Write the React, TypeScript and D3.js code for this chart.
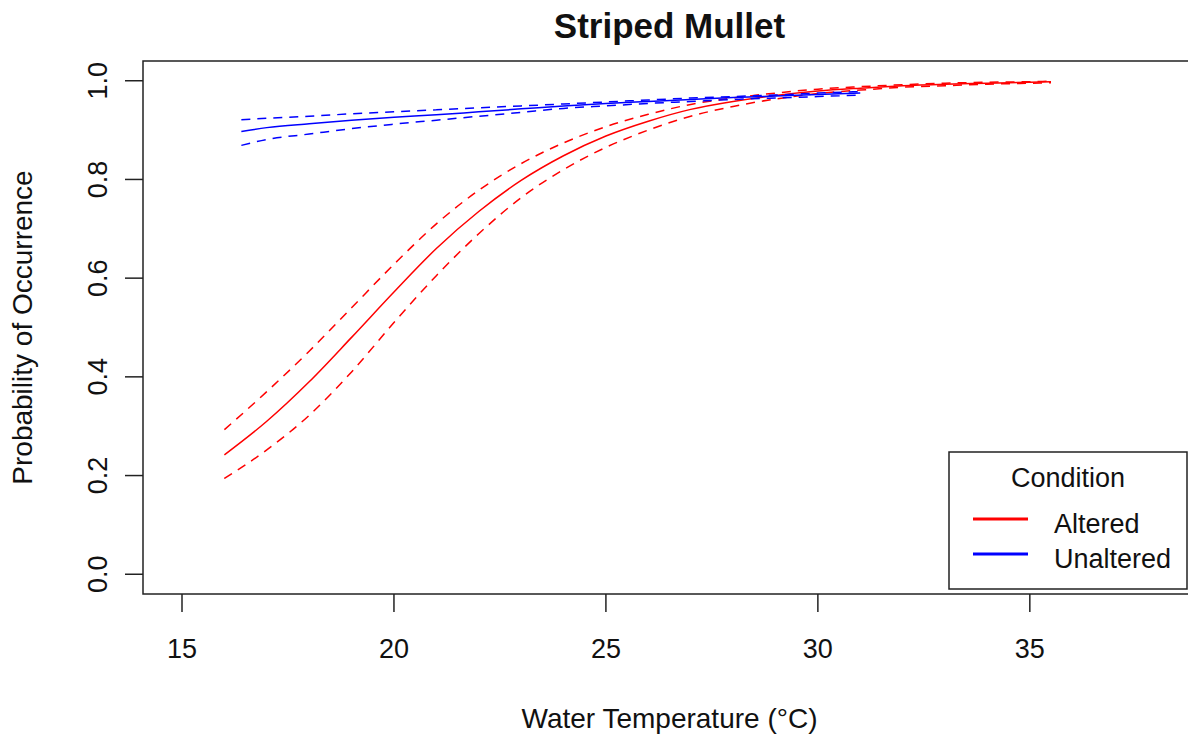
import React from "react";
import * as d3 from "d3";

const title = "Striped Mullet";
const xLabel = "Water Temperature (°C)";
const yLabel = "Probability of Occurrence";
const xTicks = [15, 20, 25, 30, 35];
const yTicks = [0, 0.2, 0.4, 0.6, 0.8, 1.0];
const legendTitle = "Condition";
const legendNames = ["Altered", "Unaltered"];
const seriesColors = ["#ff0000", "#0000ff"];

// Altered (red)
const alteredTemp = [16, 17, 18, 19, 20, 21, 22, 23, 24, 25, 26, 27, 28, 29, 30, 31, 32, 33, 34, 35, 35.5];
const alteredFit = [0.242, 0.31, 0.39, 0.48, 0.572, 0.66, 0.735, 0.798, 0.848, 0.888, 0.918, 0.942, 0.958, 0.97, 0.979, 0.985, 0.99, 0.993, 0.995, 0.997, 0.998];
const alteredUpper = [0.293, 0.37, 0.452, 0.54, 0.628, 0.71, 0.778, 0.832, 0.874, 0.907, 0.932, 0.952, 0.965, 0.975, 0.983, 0.988, 0.992, 0.995, 0.997, 0.998, 0.999];
const alteredLower = [0.194, 0.252, 0.322, 0.41, 0.51, 0.605, 0.69, 0.763, 0.82, 0.865, 0.9, 0.928, 0.948, 0.963, 0.974, 0.981, 0.987, 0.99, 0.993, 0.995, 0.996];

// Unaltered (blue)
const unalteredTemp = [16.4, 17, 18, 19, 20, 21, 22, 23, 24, 25, 26, 27, 28, 29, 30, 31];
const unalteredFit = [0.897, 0.905, 0.913, 0.92, 0.926, 0.931, 0.937, 0.943, 0.949, 0.954, 0.958, 0.962, 0.966, 0.969, 0.972, 0.975];
const unalteredUpper = [0.921, 0.924, 0.928, 0.933, 0.937, 0.941, 0.945, 0.949, 0.953, 0.957, 0.961, 0.965, 0.968, 0.971, 0.975, 0.978];
const unalteredLower = [0.869, 0.881, 0.892, 0.903, 0.912, 0.92, 0.928, 0.936, 0.944, 0.949, 0.954, 0.958, 0.962, 0.965, 0.968, 0.971];

const W = 1188;
const H = 739;
const plotLeft = 143;
const plotRight = 1196;
const plotTop = 61;
const plotBottom = 594;
const FONT = "'Liberation Sans', Arial, sans-serif";

export default function App() {
  const x = d3.scaleLinear().domain([14.08, 38.92]).range([plotLeft, plotRight]);
  const y = d3.scaleLinear().domain([-0.04, 1.04]).range([plotBottom, plotTop]);

  const mk = (xs: number[], ys: number[]) =>
    d3
      .line<number>()
      .curve(d3.curveMonotoneX)
      .x((_, i) => x(xs[i]))
      .y((d) => y(d))(ys) || "";

  const series = [
    { temp: alteredTemp, fit: alteredFit, up: alteredUpper, lo: alteredLower, color: seriesColors[0] },
    { temp: unalteredTemp, fit: unalteredFit, up: unalteredUpper, lo: unalteredLower, color: seriesColors[1] },
  ];

  const legX = 949;
  const legY = 452;
  const legW = 238;
  const legH = 137;

  return (
    <svg width={W} height={H} style={{ position: "absolute", left: 0, top: 0, background: "#fff" }}>
      <rect x={0} y={0} width={W} height={H} fill="#fff" />
      <defs>
        <clipPath id="plotClip">
          <rect x={plotLeft} y={plotTop} width={plotRight - plotLeft} height={plotBottom - plotTop} />
        </clipPath>
      </defs>
      <g clipPath="url(#plotClip)">
        {series.map((s, k) => (
          <g key={k} fill="none" stroke={s.color} strokeWidth={1.5}>
            <path d={mk(s.temp, s.fit)} />
            <path d={mk(s.temp, s.up)} strokeDasharray="9,7" />
            <path d={mk(s.temp, s.lo)} strokeDasharray="9,7" />
          </g>
        ))}
      </g>
      <rect x={plotLeft} y={plotTop} width={plotRight - plotLeft} height={plotBottom - plotTop} fill="none" stroke="#222" strokeWidth={1.5} />
      {xTicks.map((t) => (
        <g key={t}>
          <line x1={x(t)} x2={x(t)} y1={plotBottom} y2={plotBottom + 18} stroke="#222" strokeWidth={1.5} />
          <text x={x(t)} y={658} textAnchor="middle" fontFamily={FONT} fontSize={27} fill="#111">
            {t}
          </text>
        </g>
      ))}
      {yTicks.map((t) => (
        <g key={t}>
          <line x1={plotLeft - 18} x2={plotLeft} y1={y(t)} y2={y(t)} stroke="#222" strokeWidth={1.5} />
          <text
            transform={`translate(${107},${y(t)}) rotate(-90)`}
            textAnchor="middle"
            fontFamily={FONT}
            fontSize={27}
            fill="#111"
          >
            {t.toFixed(1)}
          </text>
        </g>
      ))}
      <text x={(plotLeft + plotRight) / 2} y={38} textAnchor="middle" fontFamily={FONT} fontSize={35} fontWeight="bold" fill="#111">
        {title}
      </text>
      <text x={(plotLeft + plotRight) / 2} y={728} textAnchor="middle" fontFamily={FONT} fontSize={28} fill="#111">
        {xLabel}
      </text>
      <text
        transform={`translate(${32},${(plotTop + plotBottom) / 2}) rotate(-90)`}
        textAnchor="middle"
        fontFamily={FONT}
        fontSize={28}
        fill="#111"
      >
        {yLabel}
      </text>
      <rect x={legX} y={legY} width={legW} height={legH} fill="#fff" stroke="#222" strokeWidth={1.5} />
      <text x={legX + legW / 2} y={487} textAnchor="middle" fontFamily={FONT} fontSize={27} fill="#111">
        {legendTitle}
      </text>
      {legendNames.map((n, i) => (
        <g key={n}>
          <line x1={973} x2={1028} y1={519 + i * 35} y2={519 + i * 35} stroke={seriesColors[i]} strokeWidth={3} />
          <text x={1054} y={533 + i * 35} fontFamily={FONT} fontSize={27} fill="#111">
            {n}
          </text>
        </g>
      ))}
    </svg>
  );
}
